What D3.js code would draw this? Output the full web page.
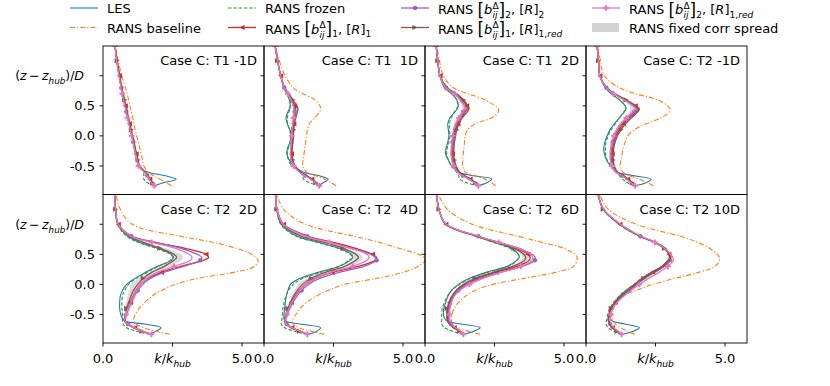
<!DOCTYPE html>
<html>
<head>
<meta charset="utf-8">
<script src="https://cdn.jsdelivr.net/npm/d3@7"></script>
<style>
  body { margin: 0; background: #fff; }
  svg { font-family: "DejaVu Sans", sans-serif; }
  svg text { white-space: pre; }
</style>
</head>
<body>
<svg id="chart" width="830" height="386"></svg>
<script>
// Vertical profiles of k/k_hub against (z - z_hub)/D, 2 x 4 panels.
// Every series is sampled on the same z levels (bottom to top).
const zLevels = [-0.83, -0.78, -0.72, -0.66, -0.6, -0.5, -0.4, -0.3, -0.2, -0.1, 0.0,
  0.1, 0.2, 0.3, 0.4, 0.45, 0.5, 0.6, 0.7, 0.8, 1.0, 1.25, 1.5];

const panelTitles = ['Case C: T1 -1D', 'Case C: T1  1D', 'Case C: T1  2D', 'Case C: T2 -1D',
  'Case C: T2  2D', 'Case C: T2  4D', 'Case C: T2  6D', 'Case C: T2 10D'];

const yTicks = [-0.5, 0.0, 0.5, 1.0];
const yTickLabels = ['-0.5', '0.0', '0.5', null]; // 1.0 carries the axis label
const xTicks = [0, 2.5, 5];

// one row per panel, same order as panelTitles
const les = [
  [1.85, 2.17, 2.63, 2.2, 1.6, 1.27, 1.22, 1.17, 1.12, 1.08, 1.03, 0.99, 0.94, 0.89, 0.84, 0.82, 0.79, 0.75, 0.70, 0.66, 0.58, 0.50, 0.43],
  [1.95, 2.13, 2.31, 1.95, 1.41, 1.06, 0.91, 0.82, 0.85, 0.94, 0.97, 0.94, 0.84, 0.79, 0.86, 0.91, 0.94, 0.91, 0.82, 0.72, 0.60, 0.49, 0.40],
  [1.92, 2.22, 2.4, 1.68, 1.2, 0.96, 0.84, 0.74, 0.76, 0.82, 0.86, 0.84, 0.82, 0.9, 1.08, 1.16, 1.2, 1.14, 0.96, 0.7, 0.54, 0.46, 0.40],
  [1.74, 2.16, 2.34, 1.68, 1.1, 0.88, 0.74, 0.66, 0.64, 0.68, 0.76, 0.86, 1.02, 1.2, 1.38, 1.44, 1.41, 1.2, 0.9, 0.7, 0.5, 0.45, 0.40],
  [1.68, 1.9, 2.08, 1.5, 0.75, 0.64, 0.6, 0.6, 0.62, 0.7, 0.85, 1.15, 1.53, 1.95, 2.46, 2.54, 2.46, 1.98, 1.32, 0.9, 0.54, 0.46, 0.42],
  [1.56, 1.9, 2.03, 1.3, 0.74, 0.72, 0.74, 0.77, 0.8, 0.86, 0.95, 1.3, 1.95, 2.7, 3.1, 3.2, 3.14, 2.7, 1.95, 1.2, 0.62, 0.46, 0.42],
  [1.38, 1.75, 1.98, 1.3, 0.75, 0.66, 0.68, 0.74, 0.82, 0.95, 1.2, 1.6, 2.2, 2.95, 3.3, 3.39, 3.36, 3.1, 2.5, 1.85, 0.75, 0.5, 0.42],
  [1.28, 1.7, 1.92, 1.4, 0.92, 0.84, 0.9, 1.02, 1.2, 1.44, 1.74, 2.0, 2.33, 2.72, 2.95, 3.02, 3.0, 2.85, 2.5, 1.95, 1.2, 0.62, 0.44]
];
const baseline = [
  [2.47, 2.29, 2.05, 1.81, 1.63, 1.47, 1.42, 1.37, 1.32, 1.27, 1.21, 1.16, 1.11, 1.07, 1.02, 0.99, 0.97, 0.92, 0.87, 0.81, 0.67, 0.55, 0.43],
  [2.59, 2.43, 2.19, 1.83, 1.53, 1.39, 1.41, 1.44, 1.47, 1.5, 1.53, 1.56, 1.63, 1.83, 2.0, 2.04, 2.01, 1.83, 1.41, 1.06, 0.76, 0.55, 0.40],
  [2.54, 2.4, 2.16, 1.8, 1.44, 1.35, 1.36, 1.38, 1.4, 1.42, 1.44, 1.53, 1.8, 2.4, 2.64, 2.64, 2.52, 2.16, 1.56, 1.02, 0.66, 0.52, 0.42],
  [2.42, 2.22, 1.92, 1.56, 1.32, 1.23, 1.26, 1.3, 1.34, 1.41, 1.5, 1.74, 2.16, 2.7, 3.0, 3.02, 2.94, 2.58, 1.8, 1.2, 0.66, 0.52, 0.42],
  [2.4, 1.9, 1.45, 1.2, 1.1, 1.16, 1.3, 1.5, 1.75, 2.1, 2.6, 3.4, 4.7, 5.45, 5.58, 5.5, 5.35, 4.8, 3.96, 2.8, 1.05, 0.62, 0.46],
  [2.16, 1.7, 1.25, 1.05, 1.03, 1.15, 1.3, 1.53, 1.85, 2.3, 2.9, 4.05, 5.0, 5.55, 5.8, 5.75, 5.55, 4.85, 4.15, 3.25, 1.5, 0.7, 0.46],
  [1.98, 1.56, 1.08, 0.98, 0.95, 0.97, 1.05, 1.2, 1.45, 1.8, 2.45, 3.55, 4.7, 5.35, 5.46, 5.47, 5.4, 5.0, 4.2, 3.35, 1.7, 0.8, 0.48],
  [1.76, 1.5, 1.25, 1.06, 0.98, 0.92, 0.94, 1.02, 1.3, 1.8, 2.4, 3.2, 4.05, 4.65, 4.8, 4.8, 4.72, 4.45, 4.0, 3.4, 1.8, 0.8, 0.48]
];
const frozen = [
  [1.85, 1.6, 1.47, 1.47, 1.45, 1.28, 1.23, 1.18, 1.13, 1.09, 1.04, 1.0, 0.95, 0.9, 0.85, 0.83, 0.8, 0.76, 0.71, 0.67, 0.59, 0.5, 0.43],
  [1.99, 1.65, 1.42, 1.38, 1.3, 1.0, 0.88, 0.84, 0.88, 0.94, 0.96, 0.92, 0.85, 0.84, 0.9, 0.94, 0.96, 0.92, 0.83, 0.72, 0.6, 0.49, 0.40],
  [1.92, 1.5, 1.26, 1.2, 1.14, 0.94, 0.84, 0.78, 0.8, 0.86, 0.9, 0.88, 0.88, 0.94, 1.06, 1.14, 1.18, 1.14, 0.98, 0.72, 0.54, 0.46, 0.40],
  [1.74, 1.5, 1.32, 1.2, 1.08, 0.9, 0.76, 0.7, 0.7, 0.72, 0.8, 0.9, 1.05, 1.2, 1.36, 1.42, 1.41, 1.2, 0.92, 0.7, 0.5, 0.45, 0.40],
  [1.68, 1.2, 0.85, 0.72, 0.7, 0.7, 0.68, 0.68, 0.7, 0.78, 0.92, 1.2, 1.6, 2.0, 2.42, 2.5, 2.42, 1.9, 1.25, 0.85, 0.52, 0.46, 0.42],
  [1.56, 1.1, 0.75, 0.62, 0.64, 0.66, 0.68, 0.72, 0.78, 0.88, 1.05, 1.4, 2.05, 2.7, 3.05, 3.18, 3.1, 2.65, 1.9, 1.15, 0.6, 0.46, 0.42],
  [1.38, 1.0, 0.7, 0.6, 0.6, 0.6, 0.62, 0.7, 0.8, 0.96, 1.25, 1.65, 2.25, 3.0, 3.3, 3.37, 3.35, 3.05, 2.45, 1.82, 0.74, 0.5, 0.42],
  [1.28, 1.0, 0.8, 0.72, 0.74, 0.78, 0.86, 1.0, 1.18, 1.42, 1.72, 2.0, 2.35, 2.75, 2.98, 3.02, 3.0, 2.85, 2.48, 1.92, 1.18, 0.62, 0.44]
];
// RANS [b]_1, [R]_1
const corr11 = [
  [1.85, 1.76, 1.68, 1.6, 1.5, 1.3, 1.24, 1.19, 1.14, 1.1, 1.05, 1.0, 0.95, 0.9, 0.85, 0.83, 0.8, 0.76, 0.71, 0.67, 0.59, 0.5, 0.43],
  [1.99, 1.86, 1.72, 1.5, 1.3, 1.1, 1.02, 0.99, 1.0, 1.02, 1.04, 1.05, 1.07, 1.1, 1.13, 1.13, 1.1, 1.0, 0.88, 0.74, 0.6, 0.49, 0.40],
  [1.92, 1.8, 1.62, 1.38, 1.2, 1.08, 1.02, 0.99, 1.0, 1.02, 1.06, 1.1, 1.18, 1.3, 1.44, 1.52, 1.5, 1.34, 1.12, 0.78, 0.54, 0.46, 0.40],
  [1.77, 1.65, 1.5, 1.32, 1.1, 0.98, 0.94, 0.94, 0.96, 1.0, 1.08, 1.2, 1.34, 1.56, 1.8, 1.88, 1.77, 1.41, 1.02, 0.74, 0.5, 0.45, 0.40],
  [1.74, 1.44, 1.14, 0.9, 0.78, 0.82, 0.88, 0.98, 1.08, 1.2, 1.36, 1.62, 2.1, 2.8, 3.6, 3.8, 3.7, 2.95, 1.9, 1.05, 0.55, 0.45, 0.42],
  [1.56, 1.3, 1.0, 0.8, 0.76, 0.8, 0.88, 0.98, 1.12, 1.28, 1.5, 1.85, 2.45, 3.4, 4.0, 4.05, 3.9, 3.3, 2.5, 1.6, 0.7, 0.47, 0.42],
  [1.38, 1.25, 1.05, 0.9, 0.82, 0.8, 0.82, 0.88, 0.98, 1.15, 1.45, 1.9, 2.55, 3.3, 3.75, 3.78, 3.7, 3.3, 2.6, 1.9, 0.75, 0.5, 0.42],
  [1.28, 1.12, 0.95, 0.85, 0.8, 0.82, 0.9, 1.05, 1.25, 1.5, 1.78, 2.05, 2.4, 2.75, 2.95, 3.0, 2.98, 2.8, 2.45, 1.95, 1.22, 0.62, 0.44]
];
// RANS [b]_2, [R]_2
const corr22 = [
  [1.85, 1.75, 1.67, 1.59, 1.49, 1.29, 1.23, 1.18, 1.13, 1.09, 1.04, 0.99, 0.94, 0.89, 0.84, 0.82, 0.79, 0.75, 0.7, 0.66, 0.58, 0.5, 0.43],
  [1.99, 1.84, 1.7, 1.48, 1.28, 1.07, 0.99, 0.96, 0.97, 0.99, 1.01, 1.02, 1.04, 1.07, 1.1, 1.1, 1.07, 0.98, 0.87, 0.73, 0.6, 0.49, 0.40],
  [1.92, 1.78, 1.6, 1.36, 1.18, 1.05, 0.99, 0.96, 0.97, 0.99, 1.02, 1.05, 1.12, 1.24, 1.38, 1.44, 1.42, 1.28, 1.08, 0.76, 0.54, 0.46, 0.40],
  [1.77, 1.63, 1.48, 1.3, 1.08, 0.95, 0.9, 0.9, 0.92, 0.96, 1.03, 1.14, 1.28, 1.5, 1.74, 1.82, 1.72, 1.38, 1.0, 0.73, 0.5, 0.45, 0.40],
  [1.74, 1.42, 1.12, 0.9, 0.8, 0.84, 0.92, 1.02, 1.12, 1.25, 1.42, 1.7, 2.2, 2.9, 3.5, 3.55, 3.4, 2.8, 1.85, 1.02, 0.55, 0.45, 0.42],
  [1.56, 1.3, 1.02, 0.82, 0.78, 0.84, 0.92, 1.04, 1.18, 1.35, 1.6, 2.0, 2.7, 3.6, 4.05, 4.0, 3.85, 3.15, 2.4, 1.55, 0.7, 0.47, 0.42],
  [1.38, 1.26, 1.08, 0.94, 0.86, 0.84, 0.86, 0.92, 1.02, 1.2, 1.5, 2.0, 2.7, 3.5, 3.95, 3.96, 3.85, 3.4, 2.65, 1.92, 0.76, 0.5, 0.42],
  [1.28, 1.13, 0.97, 0.87, 0.82, 0.84, 0.92, 1.07, 1.28, 1.54, 1.82, 2.1, 2.46, 2.82, 3.02, 3.05, 3.02, 2.82, 2.47, 1.96, 1.22, 0.62, 0.44]
];
// RANS [b]_1, [R]_1,red
const corr1r = [
  [1.85, 1.78, 1.7, 1.62, 1.52, 1.32, 1.26, 1.21, 1.16, 1.12, 1.07, 1.02, 0.97, 0.92, 0.87, 0.85, 0.82, 0.78, 0.73, 0.68, 0.6, 0.51, 0.43],
  [1.99, 1.87, 1.74, 1.52, 1.32, 1.12, 1.04, 1.01, 1.02, 1.04, 1.06, 1.07, 1.09, 1.14, 1.2, 1.22, 1.18, 1.04, 0.9, 0.75, 0.6, 0.49, 0.40],
  [1.92, 1.82, 1.66, 1.42, 1.24, 1.12, 1.06, 1.03, 1.04, 1.06, 1.1, 1.14, 1.22, 1.34, 1.52, 1.58, 1.54, 1.38, 1.14, 0.8, 0.54, 0.46, 0.40],
  [1.77, 1.67, 1.53, 1.35, 1.13, 1.02, 0.98, 0.98, 1.0, 1.05, 1.13, 1.26, 1.42, 1.64, 1.86, 1.92, 1.8, 1.44, 1.04, 0.75, 0.5, 0.45, 0.40],
  [1.74, 1.4, 1.1, 0.86, 0.76, 0.8, 0.85, 0.92, 1.0, 1.1, 1.25, 1.45, 1.75, 2.2, 2.55, 2.65, 2.55, 2.05, 1.45, 0.95, 0.54, 0.45, 0.42],
  [1.56, 1.28, 0.98, 0.78, 0.74, 0.78, 0.86, 0.95, 1.06, 1.2, 1.38, 1.7, 2.2, 2.9, 3.3, 3.4, 3.3, 2.85, 2.15, 1.35, 0.65, 0.46, 0.42],
  [1.38, 1.24, 1.04, 0.88, 0.8, 0.78, 0.8, 0.86, 0.96, 1.12, 1.38, 1.8, 2.45, 3.15, 3.58, 3.62, 3.55, 3.2, 2.55, 1.88, 0.75, 0.5, 0.42],
  [1.28, 1.12, 0.96, 0.86, 0.81, 0.83, 0.91, 1.06, 1.27, 1.52, 1.8, 2.08, 2.44, 2.8, 3.0, 3.04, 3.0, 2.82, 2.46, 1.95, 1.22, 0.62, 0.44]
];
// RANS [b]_2, [R]_1,red
const corr2r = [
  [1.85, 1.74, 1.66, 1.58, 1.48, 1.28, 1.22, 1.17, 1.12, 1.08, 1.03, 0.98, 0.93, 0.88, 0.83, 0.81, 0.78, 0.74, 0.69, 0.65, 0.57, 0.49, 0.43],
  [1.99, 1.84, 1.68, 1.46, 1.26, 1.06, 0.98, 0.95, 0.96, 0.98, 1.0, 1.01, 1.03, 1.06, 1.08, 1.08, 1.05, 0.97, 0.86, 0.73, 0.6, 0.49, 0.40],
  [1.92, 1.77, 1.58, 1.34, 1.16, 1.03, 0.97, 0.94, 0.95, 0.97, 1.0, 1.03, 1.1, 1.22, 1.36, 1.42, 1.4, 1.26, 1.06, 0.75, 0.54, 0.46, 0.40],
  [1.77, 1.62, 1.46, 1.28, 1.06, 0.93, 0.88, 0.87, 0.89, 0.93, 1.0, 1.1, 1.24, 1.45, 1.68, 1.76, 1.68, 1.36, 0.99, 0.73, 0.5, 0.45, 0.40],
  [1.74, 1.42, 1.12, 0.88, 0.78, 0.82, 0.9, 1.0, 1.1, 1.22, 1.38, 1.58, 1.95, 2.55, 3.15, 3.2, 3.1, 2.6, 1.75, 1.0, 0.55, 0.45, 0.42],
  [1.56, 1.3, 1.0, 0.8, 0.76, 0.82, 0.9, 1.0, 1.14, 1.3, 1.5, 1.85, 2.4, 3.2, 3.7, 3.78, 3.7, 3.1, 2.35, 1.5, 0.68, 0.47, 0.42],
  [1.38, 1.28, 1.1, 0.96, 0.9, 0.88, 0.9, 0.95, 1.05, 1.25, 1.6, 2.1, 2.75, 3.45, 3.85, 3.88, 3.8, 3.35, 2.65, 1.92, 0.76, 0.5, 0.42],
  [1.28, 1.15, 1.0, 0.9, 0.88, 0.9, 0.98, 1.12, 1.35, 1.62, 1.92, 2.25, 2.62, 2.95, 3.14, 3.12, 3.05, 2.82, 2.48, 1.98, 1.24, 0.63, 0.44]
];
// fixed-correction spread (lower / upper edge)
const spreadLo = [
  [1.83, 1.72, 1.64, 1.56, 1.46, 1.26, 1.2, 1.15, 1.1, 1.06, 1.01, 0.97, 0.92, 0.87, 0.82, 0.8, 0.78, 0.74, 0.69, 0.65, 0.57, 0.49, 0.42],
  [1.97, 1.82, 1.66, 1.44, 1.24, 1.04, 0.96, 0.93, 0.94, 0.96, 0.98, 0.99, 1.01, 1.04, 1.06, 1.06, 1.03, 0.95, 0.85, 0.72, 0.59, 0.49, 0.40],
  [1.9, 1.74, 1.55, 1.3, 1.12, 0.99, 0.93, 0.9, 0.91, 0.93, 0.96, 0.99, 1.05, 1.15, 1.28, 1.34, 1.33, 1.2, 1.02, 0.73, 0.53, 0.46, 0.40],
  [1.74, 1.58, 1.42, 1.24, 1.02, 0.89, 0.84, 0.83, 0.85, 0.89, 0.96, 1.06, 1.2, 1.4, 1.56, 1.6, 1.56, 1.3, 0.97, 0.72, 0.5, 0.45, 0.40],
  [1.7, 1.38, 1.05, 0.82, 0.74, 0.78, 0.8, 0.84, 0.88, 0.94, 1.0, 1.3, 1.7, 2.1, 2.5, 2.58, 2.5, 2.0, 1.35, 0.9, 0.53, 0.45, 0.42],
  [1.54, 1.25, 0.95, 0.76, 0.72, 0.76, 0.82, 0.9, 1.0, 1.1, 1.22, 1.55, 2.1, 2.85, 3.2, 3.25, 3.18, 2.72, 2.0, 1.25, 0.62, 0.46, 0.42],
  [1.38, 1.2, 1.0, 0.85, 0.78, 0.76, 0.78, 0.84, 0.94, 1.1, 1.36, 1.78, 2.4, 3.1, 3.45, 3.5, 3.45, 3.15, 2.52, 1.86, 0.74, 0.5, 0.42],
  [1.26, 1.1, 0.93, 0.83, 0.78, 0.8, 0.88, 1.02, 1.22, 1.46, 1.74, 2.02, 2.37, 2.72, 2.93, 2.97, 2.95, 2.78, 2.43, 1.93, 1.2, 0.62, 0.44]
];
const spreadHi = [
  [1.87, 1.8, 1.72, 1.64, 1.54, 1.34, 1.28, 1.23, 1.18, 1.14, 1.09, 1.04, 0.99, 0.94, 0.89, 0.87, 0.84, 0.8, 0.75, 0.7, 0.62, 0.52, 0.44],
  [2.01, 1.89, 1.76, 1.54, 1.34, 1.14, 1.06, 1.03, 1.04, 1.06, 1.08, 1.09, 1.11, 1.16, 1.22, 1.24, 1.2, 1.06, 0.91, 0.76, 0.61, 0.5, 0.40],
  [1.94, 1.84, 1.68, 1.44, 1.26, 1.14, 1.08, 1.05, 1.06, 1.08, 1.12, 1.16, 1.24, 1.36, 1.54, 1.6, 1.56, 1.4, 1.16, 0.82, 0.55, 0.47, 0.40],
  [1.79, 1.69, 1.55, 1.37, 1.15, 1.04, 1.0, 1.0, 1.02, 1.07, 1.15, 1.28, 1.44, 1.66, 1.88, 1.94, 1.82, 1.46, 1.06, 0.76, 0.51, 0.45, 0.40],
  [1.74, 1.44, 1.15, 0.92, 0.84, 0.92, 1.0, 1.1, 1.2, 1.3, 1.4, 1.6, 1.95, 2.4, 2.82, 2.88, 2.8, 2.25, 1.55, 1.0, 0.56, 0.46, 0.42],
  [1.58, 1.32, 1.04, 0.84, 0.82, 0.88, 0.98, 1.08, 1.2, 1.32, 1.48, 1.82, 2.4, 3.15, 3.5, 3.55, 3.45, 2.95, 2.2, 1.4, 0.66, 0.47, 0.42],
  [1.4, 1.28, 1.1, 0.95, 0.88, 0.86, 0.88, 0.94, 1.04, 1.22, 1.52, 1.96, 2.62, 3.35, 3.7, 3.72, 3.65, 3.3, 2.62, 1.92, 0.76, 0.5, 0.42],
  [1.3, 1.15, 0.99, 0.89, 0.84, 0.86, 0.94, 1.1, 1.31, 1.57, 1.86, 2.14, 2.5, 2.86, 3.06, 3.09, 3.06, 2.86, 2.5, 1.98, 1.24, 0.63, 0.44]
];

// drawing order follows the legend: LES first, pink last
const series = [
  { data: les, color: '#1f77b4', width: 1.1 },
  { data: baseline, color: '#ff7f0e', width: 1.1, dash: '5,2,1.2,2' },
  { data: frozen, color: '#2ca02c', width: 1.1, dash: '3.5,1.8' },
  { data: corr11, color: '#d62728', width: 1.3, marker: 'tri-left', every: [2, 7, 12, 16, 20] },
  { data: corr22, color: '#9467bd', width: 1.3, marker: 'circle', every: [3, 9, 14, 19] },
  { data: corr1r, color: '#8c564b', width: 1.3, marker: 'tri-right', every: [1, 6, 11, 17, 21] },
  { data: corr2r, color: '#e377c2', width: 1.3, marker: 'plus', every: [0, 5, 10, 13, 18, 22] }
];

const svg = d3.select('#chart');
const left0 = 103, pw = 161, ph = 148.5;
const rowTop = [46, 194.5];

const x = d3.scaleLinear().domain([0, 5.79]).range([0, pw]);
const y = d3.scaleLinear().domain([-0.975, 1.495]).range([ph, 0]);

const curve = d3.curveCatmullRom.alpha(0.5);
const line = d3.line().x((d) => x(d[0])).y((d) => y(d[1])).curve(curve);
const area = d3.area().y((d) => y(d.z)).x0((d) => x(d.lo)).x1((d) => x(d.hi)).curve(curve);

function markerPath(type) {
  if (type === 'circle') return d3.symbol(d3.symbolCircle, 16)();
  if (type === 'plus') return d3.symbol(d3.symbolCross, 18)();
  const s = 2.6;
  if (type === 'tri-left') return `M${-s},0L${s},${-s}L${s},${s}Z`;
  return `M${s},0L${-s},${-s}L${-s},${s}Z`;
}

// text made of pieces: plain, italic, sub/superscript, stacked sup+sub
function rich(g, x0, y0, parts, size) {
  let cx = x0;
  parts.forEach((p) => {
    if (p.stack) {
      const a = g.append('text').attr('x', cx).attr('y', y0 - 0.42 * size)
        .attr('font-size', size * 0.7).text(p.stack[0]);
      const b = g.append('text').attr('x', cx).attr('y', y0 + 0.32 * size)
        .attr('font-size', size * 0.7).attr('font-style', 'italic').text(p.stack[1]);
      cx += Math.max(a.node().getComputedTextLength(), b.node().getComputedTextLength());
      return;
    }
    const t = g.append('text').attr('x', cx).attr('y', y0 + (p.dy || 0) * size)
      .attr('font-size', size * (p.scale || 1)).text(p.t);
    if (p.it) t.attr('font-style', 'italic');
    cx += t.node().getComputedTextLength();
  });
  return cx - x0;
}

const sub = (t, it) => ({ t, scale: 0.7, dy: 0.3, it });

panelTitles.forEach((title, i) => {
  const row = Math.floor(i / 4), col = i % 4;
  const g = svg.append('g').attr('transform', `translate(${left0 + col * pw},${rowTop[row]})`);

  g.append('clipPath').attr('id', `clip${i}`)
    .append('rect').attr('width', pw).attr('height', ph);
  const plot = g.append('g').attr('clip-path', `url(#clip${i})`);

  const band = zLevels.map((z, j) => ({ z, lo: spreadLo[i][j], hi: spreadHi[i][j] }));
  plot.append('path').attr('d', area(band)).attr('fill', '#d3d3d3').attr('opacity', 0.85);

  series.forEach((s) => {
    const pts = zLevels.map((z, j) => [s.data[i][j], z]);
    plot.append('path').attr('d', line(pts))
      .attr('fill', 'none').attr('stroke', s.color).attr('stroke-width', s.width)
      .attr('stroke-dasharray', s.dash || null);
    if (s.marker) {
      s.every.forEach((j) => {
        plot.append('path').attr('d', markerPath(s.marker))
          .attr('transform', `translate(${x(pts[j][0])},${y(pts[j][1])})`)
          .attr('fill', s.color);
      });
    }
  });

  g.append('rect').attr('width', pw).attr('height', ph)
    .attr('fill', 'none').attr('stroke', '#000').attr('stroke-width', 0.9);

  // y ticks stick out to the left of every panel
  yTicks.forEach((t) => {
    g.append('line').attr('x1', -3.5).attr('x2', 0).attr('y1', y(t)).attr('y2', y(t))
      .attr('stroke', '#000').attr('stroke-width', 0.9);
  });

  g.append('text').attr('x', pw - 7).attr('y', 19).attr('text-anchor', 'end')
    .attr('font-size', 13).text(title);

  if (col === 0) {
    yTicks.forEach((t, k) => {
      if (yTickLabels[k] === null) return;
      g.append('text').attr('x', -8).attr('y', y(t) + 4.6).attr('text-anchor', 'end')
        .attr('font-size', 13).text(yTickLabels[k]);
    });
    const lab = g.append('g');
    const w = rich(lab, 0, y(1.0) + 4.6, [
      { t: '(' }, { t: 'z', it: true }, { t: '\u2009\u2212\u2009' }, { t: 'z', it: true }, sub('hub', true),
      { t: ')/' }, { t: 'D', it: true }
    ], 12.5);
    lab.attr('transform', `translate(${-19 - w},0)`);
  }

  if (row === 1) {
    xTicks.forEach((t) => {
      g.append('line').attr('x1', x(t)).attr('x2', x(t)).attr('y1', ph).attr('y2', ph + 3.5)
        .attr('stroke', '#000').attr('stroke-width', 0.9);
    });
    g.append('text').attr('x', x(0)).attr('y', ph + 20).attr('text-anchor', 'middle')
      .attr('font-size', 13).text('0.0');
    g.append('text').attr('x', x(5)).attr('y', ph + 20).attr('text-anchor', 'middle')
      .attr('font-size', 13).text('5.0');
    const lab = g.append('g');
    const w = rich(lab, 0, ph + 20, [
      { t: 'k', it: true }, { t: '/' }, { t: 'k', it: true }, sub('hub', true)
    ], 13);
    lab.attr('transform', `translate(${x(2.5) - w / 2},0)`);
  }
});

// legend, 4 columns x 2 rows, filled column by column
function bracketLabel(n, rSub) {
  return [
    { t: 'RANS ' }, { t: '[', scale: 1.3, dy: 0.12 }, { t: 'b', it: true }, { stack: ['\u0394', 'ij'] },
    { t: ']', scale: 1.3, dy: 0.12 }, sub(String(n)), { t: ', [' }, { t: 'R', it: true }, { t: ']' },
    ...rSub
  ];
}
const legendItems = [
  { s: 0, parts: [{ t: 'LES' }] },
  { s: 1, parts: [{ t: 'RANS baseline' }] },
  { s: 2, parts: [{ t: 'RANS frozen' }] },
  { s: 3, parts: bracketLabel(1, [sub('1')]) },
  { s: 4, parts: bracketLabel(2, [sub('2')]) },
  { s: 5, parts: bracketLabel(1, [sub('1,'), sub('red', true)]) },
  { s: 6, parts: bracketLabel(2, [sub('1,'), sub('red', true)]) },
  { s: null, parts: [{ t: 'RANS fixed corr spread' }] }
];
const legendX = [70, 228, 401, 592];
const legendY = [8, 27.5];
const leg = svg.append('g');
legendItems.forEach((item, k) => {
  const hx = legendX[Math.floor(k / 2)], hy = legendY[k % 2];
  if (item.s === null) {
    leg.append('rect').attr('x', hx).attr('y', hy - 4.5).attr('width', 27).attr('height', 9)
      .attr('fill', '#d3d3d3');
  } else {
    const s = series[item.s];
    leg.append('line').attr('x1', hx).attr('x2', hx + 28).attr('y1', hy).attr('y2', hy)
      .attr('stroke', s.color).attr('stroke-width', s.width)
      .attr('stroke-dasharray', s.dash || null);
    if (s.marker) {
      leg.append('path').attr('d', markerPath(s.marker))
        .attr('transform', `translate(${hx + 14},${hy})`).attr('fill', s.color);
    }
  }
  const bump = item.parts.length > 2 ? 1 : 0; // math labels sit a little lower
  rich(leg, hx + 37, hy + 5 + bump, item.parts, 13);
});
</script>
</body>
</html>
